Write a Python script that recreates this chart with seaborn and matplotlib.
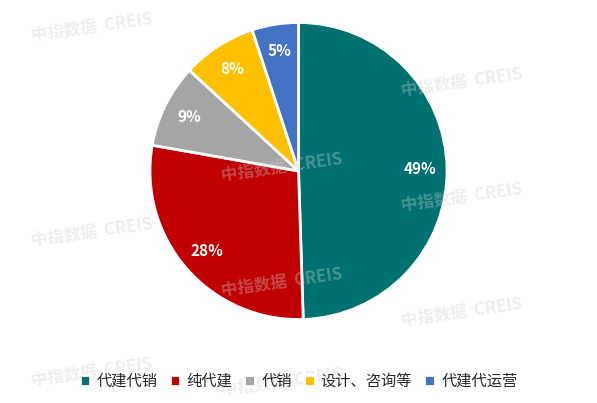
import matplotlib
matplotlib.use("Agg")
import matplotlib.pyplot as plt
import seaborn as sns

sns.set_theme(style="white")
plt.rcParams['font.family'] = ['Noto Sans CJK SC', 'DejaVu Sans']

categories = ["代建代销", "纯代建", "代销", "设计、咨询等", "代建代运营"]
values = [49, 28, 9, 8, 5]
colors = ["#007070", "#C00000", "#A5A5A5", "#FFC000", "#4472C4"]

fig = plt.figure(figsize=(5.97, 4.03), dpi=100)
ax = fig.add_axes([0.5 - 150/597, 1 - (171+150)/403, 300/597, 300/403])
wedges, texts, autotexts = ax.pie(values, colors=colors, startangle=90, counterclock=False,
       autopct=lambda p: f"{p:.0f}%", pctdistance=0.82,
       wedgeprops=dict(edgecolor="white", linewidth=2))
for t in autotexts:
    t.set_color("white"); t.set_fontweight("bold"); t.set_fontsize(11)
ax.set_aspect("equal")
ax.set_xlim(-1.01, 1.01); ax.set_ylim(-1.01, 1.01)

for (x, y) in [(30, 40), (400, 95), (30, 245), (220, 295), (400, 325), (30, 385), (400, 210), (220, 180), (220, 395)]:
    fig.text(x/597, 1 - y/403, "中指数据  CREIS", fontsize=12, color="#d0d0d0",
             fontweight="bold", rotation=8, alpha=0.35, zorder=0)

fig.legend(wedges, categories, loc="center", bbox_to_anchor=(0.5, 1 - 381/403), ncol=5,
           frameon=False, fontsize=11, handlelength=0.7, handleheight=0.7,
           columnspacing=0.8, handletextpad=0.4)
fig.savefig("out.png", dpi=100, facecolor="white")
